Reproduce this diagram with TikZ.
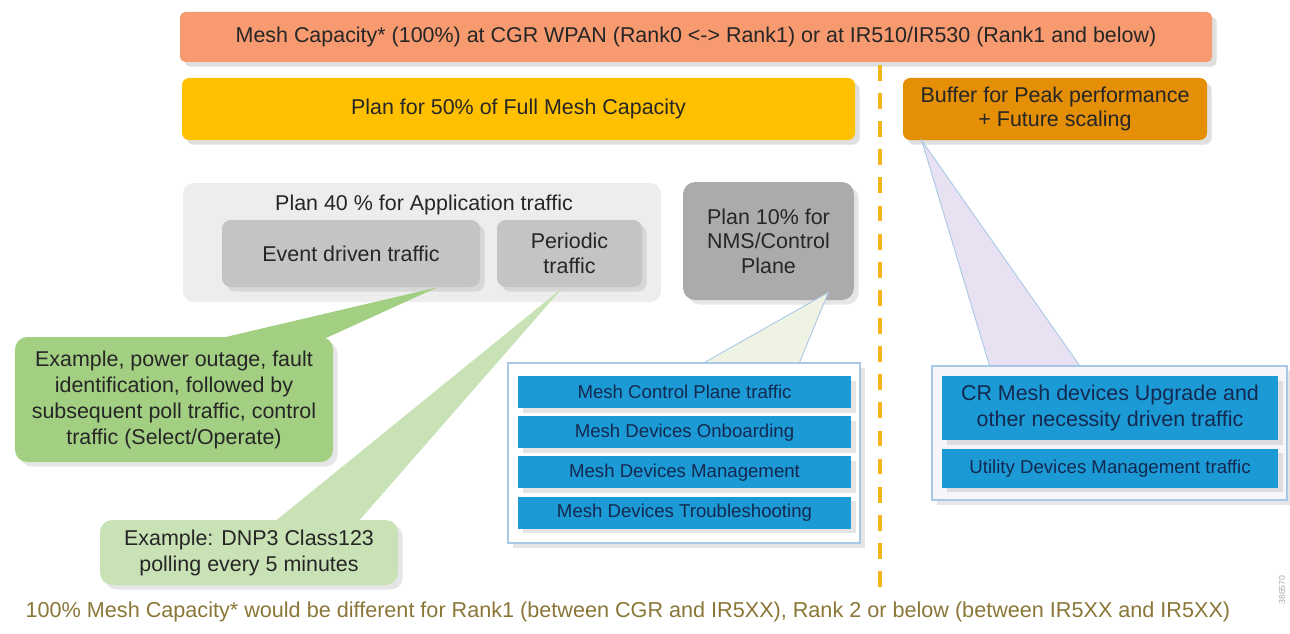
\documentclass[tikz,border=0pt]{standalone}
\usepackage{fontspec}
\setmainfont{Liberation Sans}
\usepackage{tikz}
\usetikzlibrary{positioning,calc,shadows}
\definecolor{salmon400}{HTML}{F79A70}
\definecolor{gold400}  {HTML}{FFC000}
\definecolor{amber500} {HTML}{E48F06}
\definecolor{amber300} {HTML}{F2B51A}
\definecolor{grey100}  {HTML}{EDEDED}
\definecolor{grey300}  {HTML}{C4C4C4}
\definecolor{grey400}  {HTML}{ABABAB}
\definecolor{green300} {HTML}{A2CF82}
\definecolor{green200} {HTML}{C8E2B6}
\definecolor{green100} {HTML}{EEF3E3}
\definecolor{lilac100} {HTML}{E7E1F1}
\definecolor{sky500}   {HTML}{1C9AD6}
\definecolor{sky200}   {HTML}{A9C8E6}
\definecolor{navy800}  {HTML}{13294F}
\definecolor{olive700} {HTML}{8A7636}
\definecolor{ink}      {HTML}{262626}
\tikzset{
  band/.style  ={fill=salmon400, rounded corners=3pt, text=ink,
                 minimum width=20.64cm, minimum height=1cm,
                 font=\fontsize{12.2}{14}\selectfont,
                 drop shadow={opacity=0.25}},
  plan/.style  ={fill=gold400, rounded corners=4pt, text=ink,
                 minimum height=1.24cm, align=center,
                 font=\fontsize{12.2}{14}\selectfont,
                 drop shadow={opacity=0.25}},
  buf/.style   ={plan, fill=amber500},
  grp/.style   ={fill=grey100, rounded corners=6pt,
                 minimum width=9.56cm, minimum height=2.38cm},
  sub/.style   ={fill=grey300, rounded corners=5pt, text=ink, align=center,
                 minimum height=1.34cm, font=\fontsize{12.2}{14}\selectfont,
                 drop shadow={opacity=0.2}},
  nms/.style   ={sub, fill=grey400, rounded corners=7pt,
                 minimum width=3.42cm, minimum height=2.36cm},
  exg/.style   ={fill=green300, rounded corners=7pt, text=ink, align=center,
                 font=\fontsize{12.2}{14.8}\selectfont,
                 drop shadow={opacity=0.2}},
  exl/.style   ={exg, fill=green200},
  frame/.style ={draw=sky200, line width=0.6pt, fill=white,
                 drop shadow={opacity=0.2}},
  row/.style   ={fill=sky500, text=navy800, align=center,
                 font=\fontsize{10.6}{13.5}\selectfont,
                 drop shadow={opacity=0.2}},
  wedge/.style ={draw=sky200, line width=0.5pt},
  tag/.style   ={text=ink, font=\fontsize{12.2}{14}\selectfont},
  note/.style  ={text=olive700, font=\fontsize{12.3}{14}\selectfont},
  cut/.style   ={draw=amber300, line width=1.8pt, dash pattern=on 9pt off 7pt}
}
\begin{document}
\begin{tikzpicture}
\useasboundingbox (0,0) rectangle (25.8,12.66);
% capacity bands
\node[band] (cap) at (13.92,11.92)
  {Mesh Capacity* (100\%) at CGR WPAN (Rank0 <-> Rank1) or at IR510/IR530 (Rank1 and below)};
\node[plan, minimum width=13.46cm] (half) at (10.37,10.48) {Plan for 50\% of Full Mesh Capacity};
\node[buf, minimum width=6.08cm] (buf) at (21.10,10.48) {Buffer for Peak performance\\+ Future scaling};
\draw[cut] (17.6,11.36) -- (17.6,0.76);

% the 50 % split
\node[grp] (app) at (8.44,7.81) {};
\node[tag] (apptl) at (8.48,8.56) {Plan 40 \% for Application traffic};
\node[sub, minimum width=5.16cm] (evt) at (7.02,7.59) {Event driven traffic};
\node[sub, minimum width=2.90cm] (per) at (11.39,7.59) {Periodic\\traffic};
\node[nms] (nms) at (15.37,7.84) {Plan 10\% for\\NMS/Control\\Plane};

% examples
\fill[green300] ([xshift=-0.86cm]evt.south east) -- (4.0,5.8) -- (6.3,5.8) -- cycle;
\node[exg, minimum width=6.36cm, minimum height=2.5cm] (ex1) at (3.48,4.67)
  {Example, power outage, fault\\identification, followed by\\subsequent poll traffic, control\\traffic (Select/Operate)};
\fill[green200] ([xshift=-0.13cm]per.south) -- (5.46,2.2) -- (7.14,2.2) -- cycle;
\node[exl, minimum width=5.96cm, minimum height=1.30cm] (ex2) at (4.98,1.61)
  {Example: DNP3 Class123\\polling every 5 minutes};

% NMS / control plane list
\node[frame, minimum width=7.04cm, minimum height=3.60cm] (lst) at (13.68,3.60) {};
\filldraw[wedge, fill=green100] ([shift={(-0.52,0.16)}]nms.south east)
  -- ([xshift=3.94cm]lst.north west) -- ([xshift=5.84cm]lst.north west) -- cycle;
\node[row, minimum width=6.66cm, minimum height=0.64cm] (r1) at (13.69,4.82) {Mesh Control Plane traffic};
\node[row, minimum width=6.66cm, minimum height=0.64cm, below=0.15cm of r1] (r2) {Mesh Devices Onboarding};
\node[row, minimum width=6.66cm, minimum height=0.64cm, below=0.15cm of r2] (r3) {Mesh Devices Management};
\node[row, minimum width=6.66cm, minimum height=0.64cm, below=0.15cm of r3] (r4) {Mesh Devices Troubleshooting};

% buffer list
\node[frame, fill=lilac100!35, minimum width=7.10cm, minimum height=2.68cm] (upg) at (22.19,4.00) {};
\filldraw[wedge, fill=lilac100] ([xshift=0.38cm]buf.south west)
  -- ([xshift=1.16cm]upg.north west) -- ([xshift=2.96cm]upg.north west) -- cycle;
\node[row, minimum width=6.72cm, minimum height=1.28cm, font=\fontsize{12.2}{15}\selectfont] (u1) at (22.20,4.50)
  {CR Mesh devices Upgrade and\\other necessity driven traffic};
\node[row, minimum width=6.72cm, minimum height=0.78cm, below=0.16cm of u1] (u2) {Utility Devices Management traffic};

% footnote
\node[note] (foot) at (12.56,0.42)
  {100\% Mesh Capacity* would be different for Rank1 (between CGR and IR5XX), Rank 2 or below (between IR5XX and IR5XX)};
\node[rotate=90, text=grey400, font=\fontsize{5}{6}\selectfont] (fig) at (25.64,0.86) {386570};
\end{tikzpicture}
\end{document}
